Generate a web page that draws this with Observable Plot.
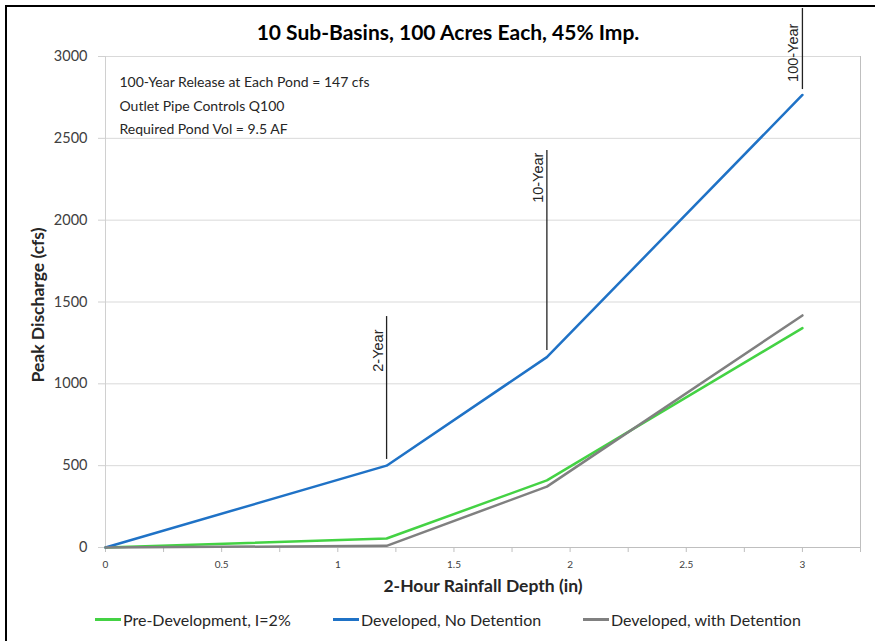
<!DOCTYPE html>
<html>
<head>
<meta charset="utf-8">
<script src="https://cdn.jsdelivr.net/npm/d3@7"></script>
<script src="https://cdn.jsdelivr.net/npm/@observablehq/plot@0.6"></script>
<style>
  html, body { margin: 0; padding: 0; background: #fff; overflow: hidden; }
  #chart { position: relative; width: 875px; height: 641px; font-family: Lato, "Open Sans", sans-serif; }
  #border { position: absolute; left: 5px; top: 5px; width: 920px; height: 700px; border: 2px solid #000; box-sizing: border-box; pointer-events: none; }
  #chart svg { position: absolute; left: 0; top: 0; }
  #legend { position: absolute; top: 610px; left: 0; width: 875px; height: 22px; font-size: 16px; color: #262626; }
  .item { position: absolute; top: 0; display: flex; align-items: center; white-space: nowrap; }
  .swatch { width: 26px; height: 2.5px; margin-right: 2px; }
</style>
</head>
<body>
<div id="chart"><div id="border"></div><div id="legend"></div></div>
<script>
// Rainfall depth (in) at the 2-, 10- and 100-year storms, plus the origin
const rainfall = [0, 1.21, 1.90, 3.0];

// Peak discharge (cfs) for each condition
const preDevelopment = [0, 55, 410, 1340];
const noDetention = [0, 500, 1163, 2765];
const withDetention = [0, 10, 372, 1418];

const seriesNames = ["Pre-Development, I=2%", "Developed, No Detention", "Developed, with Detention"];
const seriesColors = ["#44d244", "#1f72c6", "#808080"];

// Storm markers: label, depth, vertical extent of the marker line and label end (cfs)
const stormLabels = ["2-Year", "10-Year", "100-Year"];
const stormDepth = [1.21, 1.90, 3.0];
const stormTop = [1411, 2425, 3293];
const stormBottom = [538, 1203, 2798];
const stormLabelEnd = [1332, 2413, 3201];

const notes = [
  "100-Year Release at Each Pond = 147 cfs",
  "Outlet Pipe Controls Q100",
  "Required Pond Vol = 9.5 AF"
];

const title = "10 Sub-Basins, 100 Acres Each, 45% Imp.";
const xTitle = "2-Hour Rainfall Depth (in)";
const yTitle = "Peak Discharge (cfs)";

const yTicks = [0, 500, 1000, 1500, 2000, 2500, 3000];
const xTicks = [0, 0.5, 1, 1.5, 2, 2.5, 3];
const xMinorTicks = [0, 0.25, 0.5, 0.75, 1, 1.25, 1.5, 1.75, 2, 2.25, 2.5, 2.75, 3, 3.25];

const seriesValues = [preDevelopment, noDetention, withDetention];
const rows = seriesValues.flatMap((vals, s) =>
  rainfall.map((x, i) => ({series: seriesNames[s], x, y: vals[i]}))
);
const storms = stormLabels.map((label, i) => ({
  label, x: stormDepth[i], top: stormTop[i], bottom: stormBottom[i], labelEnd: stormLabelEnd[i]
}));

const chart = Plot.plot({
  width: 875,
  height: 641,
  marginLeft: 105,
  marginRight: 15,
  marginTop: 56,
  marginBottom: 94,
  style: {fontFamily: "Lato, 'Open Sans', sans-serif", background: "transparent", color: "#404040", overflow: "visible"},
  x: {domain: [0, 3.25]},
  y: {domain: [0, 3000]},
  color: {domain: seriesNames, range: seriesColors},
  marks: [
    Plot.gridY(yTicks.filter(d => d > 0), {stroke: "#d9d9d9", strokeOpacity: 1}),
    Plot.ruleX([3.25], {stroke: "#bfbfbf"}),
    Plot.ruleX([0], {stroke: "#d0d0d0"}),
    Plot.ruleY([0], {stroke: "#bfbfbf"}),
    Plot.axisY(yTicks, {tickSize: 7, tickPadding: 11, fontSize: 14.5, stroke: "#d0d0d0", label: null,
      fill: "#404040", tickFormat: d => String(d)}),
    Plot.axisX(xMinorTicks, {tickSize: 5, tickPadding: 0, text: null, stroke: "#bfbfbf", label: null}),
    Plot.axisX(xTicks, {tickSize: 0, tickPadding: 13, fontSize: 10, label: null, fill: "#404040",
      tickFormat: d => String(d)}),
    Plot.line(rows, {x: "x", y: "y", stroke: "series", strokeWidth: 2.5}),
    Plot.ruleX(storms, {x: "x", y1: "bottom", y2: "top", stroke: "#222", strokeWidth: 1.3}),
    Plot.text(storms, {x: "x", y: "labelEnd", text: "label", rotate: -90, textAnchor: "end", lineAnchor: "bottom",
      dx: -4, fontFamily: "'Liberation Sans', Arial, sans-serif", fontSize: 14.5, fill: "#262626"}),
    Plot.text([notes.join("\n")], {frameAnchor: "top-left", dx: 14, dy: 14, lineAnchor: "top", lineHeight: 1.68,
      fontSize: 14, fill: "#262626"}),
    Plot.text([title], {frameAnchor: "top", dx: -35, dy: -23, lineAnchor: "middle", fontSize: 21, fontWeight: "bold", fill: "#000"}),
    Plot.text([xTitle], {frameAnchor: "bottom", dx: 0, dy: 39, lineAnchor: "middle", fontSize: 17.5, fontWeight: "bold", fill: "#262626"}),
    Plot.text([yTitle], {frameAnchor: "left", textAnchor: "middle", dx: -67, dy: 3, rotate: -90, lineAnchor: "middle",
      fontSize: 17.5, fontWeight: "bold", fill: "#262626"})
  ]
});

document.getElementById("chart").appendChild(chart);

// Legend below the plot
const legendX = [95, 333, 583];
const legend = document.getElementById("legend");
seriesNames.forEach((name, i) => {
  const item = document.createElement("div");
  item.className = "item";
  item.style.left = legendX[i] + "px";
  const sw = document.createElement("span");
  sw.className = "swatch";
  sw.style.background = seriesColors[i];
  const label = document.createElement("span");
  label.textContent = name;
  item.appendChild(sw);
  item.appendChild(label);
  legend.appendChild(item);
});
</script>
</body>
</html>
